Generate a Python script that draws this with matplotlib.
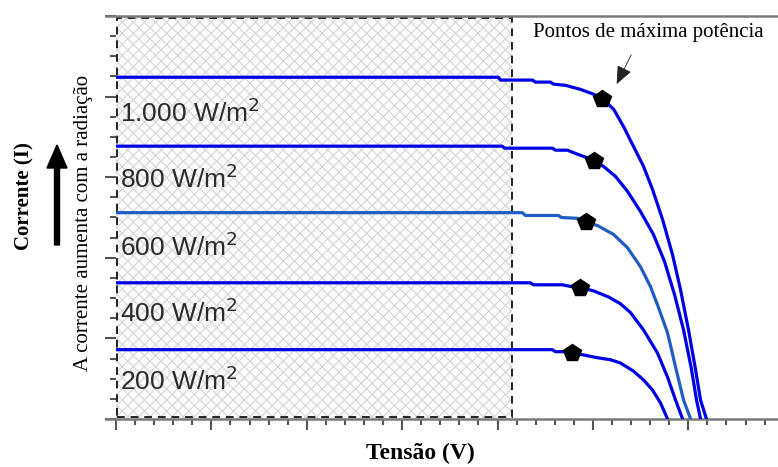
import matplotlib
matplotlib.use('Agg')
import matplotlib.pyplot as plt
from matplotlib.patches import Rectangle, FancyArrow
from matplotlib.ticker import MultipleLocator

# ── data (tensão em V, corrente em A) ──────────────────────────
labels = ['1.000 W/m$^2$', '800 W/m$^2$', '600 W/m$^2$', '400 W/m$^2$', '200 W/m$^2$']

v_1000 = [0, 20.04, 20.15, 21.83, 21.98, 22.77, 22.93, 23.56, 24.34, 25.03, 25.50, 26.08,
          26.60, 27.12, 27.65, 28.12, 28.65, 29.17, 29.59, 30.01, 30.38, 30.64, 30.95]
i_1000 = [8.48, 8.48, 8.41, 8.41, 8.36, 8.36, 8.31, 8.28, 8.18, 8.06, 7.94, 7.69,
          7.26, 6.77, 6.27, 5.70, 4.95, 4.08, 3.21, 2.21, 1.22, 0.47, 0]

v_800 = [0, 20.25, 20.36, 22.88, 23.03, 23.66, 24.19, 24.66, 25.03, 25.55, 26.18, 26.81,
         27.49, 28.17, 28.75, 29.28, 29.75, 30.17, 30.43, 30.64]
i_800 = [6.77, 6.77, 6.72, 6.72, 6.67, 6.67, 6.57, 6.49, 6.39, 6.27, 6.02, 5.65,
         5.15, 4.58, 3.91, 3.08, 2.21, 1.22, 0.47, 0]

v_600 = [0, 21.30, 21.46, 23.19, 23.35, 24.19, 24.66, 25.24, 26.08, 26.81, 27.49, 28.02,
         28.44, 28.91, 29.33, 29.75, 30.12]
i_600 = [5.12, 5.12, 5.05, 5.05, 5.00, 4.98, 4.88, 4.80, 4.58, 4.25, 3.78, 3.28,
         2.76, 2.14, 1.29, 0.47, 0]

v_400 = [0, 21.72, 21.88, 23.40, 23.92, 24.34, 25.03, 25.81, 26.44, 26.97, 27.65, 28.38,
         28.91, 29.33, 29.70]
i_400 = [3.38, 3.38, 3.33, 3.33, 3.28, 3.26, 3.18, 3.03, 2.86, 2.64, 2.21, 1.64,
         1.04, 0.47, 0]

v_200 = [0, 22.87, 23.03, 23.66, 23.92, 24.50, 25.24, 25.92, 26.44, 27.12, 27.65, 28.12,
         28.54, 28.91]
i_200 = [1.72, 1.72, 1.67, 1.67, 1.64, 1.59, 1.52, 1.47, 1.39, 1.19, 0.97, 0.72,
         0.40, 0]

# pontos de máxima potência
mpp_v = [25.50, 25.03, 24.66, 24.34, 23.92]
mpp_i = [7.94, 6.39, 4.88, 3.26, 1.64]

label_i = [7.61, 5.95, 4.28, 2.64, 0.95]

curves = [(v_1000, i_1000), (v_800, i_800), (v_600, i_600), (v_400, i_400), (v_200, i_200)]
colors = ['#0000e6', '#0000e6', '#1f5cc4', '#0000e6', '#0000e6']

V_MAX, I_MAX = 34.7, 10.0
V_HATCH = 20.78

SERIF = 'Liberation Serif'
SANS = 'Liberation Sans'

# ── figure ─────────────────────────────────────────────────────
fig = plt.figure(figsize=(7.78, 4.67), dpi=100)
ax = fig.add_axes([116/778, 48/467, 1 - 116/778, (419 - 16)/467])
ax.set_xlim(0, V_MAX)
ax.set_ylim(0, I_MAX)

# região hachurada
plt.rcParams['hatch.linewidth'] = 0.8
ax.add_patch(Rectangle((0, 0), V_HATCH, I_MAX, facecolor='#fbfbfb', edgecolor='#d6d6d6',
                       hatch='xxx', linewidth=0, zorder=0))
ax.add_patch(Rectangle((0.05, 0.04), V_HATCH - 0.05, I_MAX - 0.08, facecolor='none',
                       edgecolor='#222222', linestyle=(0, (4, 3)), linewidth=1.4,
                       zorder=1, clip_on=False))

for (v, i), c in zip(curves, colors):
    ax.plot(v, i, color=c, linewidth=2.3, zorder=3, solid_joinstyle='round')

ax.plot(mpp_v, mpp_i, linestyle='none', marker='p', markersize=13,
        color='black', zorder=4)

for lab, y in zip(labels, label_i):
    ax.text(0.2, y, lab, fontsize=19, family=SANS, color='#2b2b2b',
            ha='left', va='center', zorder=2)

ax.text(21.88, 9.6, 'Pontos de máxima potência', fontsize=15, family=SERIF,
        ha='left', va='center')
ax.annotate('', xy=(26.18, 8.25), xytext=(27.07, 9.1),
            arrowprops=dict(arrowstyle='-|>,head_length=0.7,head_width=0.3',
                            color='#222222', lw=0.6, mutation_scale=16))

# eixos
for s in ['right', 'left']:
    ax.spines[s].set_visible(False)
for s in ['top', 'bottom']:
    ax.spines[s].set_color('#7a7a7a')
    ax.spines[s].set_linewidth(1.8)
ax.spines['top'].set_bounds(-0.55, V_MAX)
ax.spines['bottom'].set_bounds(-0.55, V_MAX)
ax.xaxis.set_major_locator(MultipleLocator(5))
ax.xaxis.set_minor_locator(MultipleLocator(1))
ax.yaxis.set_major_locator(MultipleLocator(2))
ax.yaxis.set_minor_locator(MultipleLocator(0.5))
ax.tick_params(which='both', direction='out', color='#555555', width=1.5,
               labelbottom=False, labelleft=False, top=False, right=False)
ax.tick_params(which='major', length=8)
ax.tick_params(which='minor', length=4)

# rótulos
fig.text(420/778, 1 - 453/467, 'Tensão (V)', fontsize=17, family=SERIF,
         fontweight='bold', ha='center', va='center')
fig.text(24/778, 1 - 196/467, 'Corrente (I)', fontsize=15, family=SERIF,
         fontweight='bold', rotation=90, ha='center', va='center')
fig.text(84/778, 1 - 223/467, 'A corrente aumenta com a radiação', fontsize=15,
         family=SERIF, rotation=90, ha='center', va='center')
fig.patches.append(FancyArrow(57/778, 1 - 245/467, 0, 100/467, width=3/467,
                              head_width=20/778, head_length=23/467,
                              length_includes_head=True, color='black',
                              transform=fig.transFigure, figure=fig))

fig.savefig('out.png', dpi=100)
